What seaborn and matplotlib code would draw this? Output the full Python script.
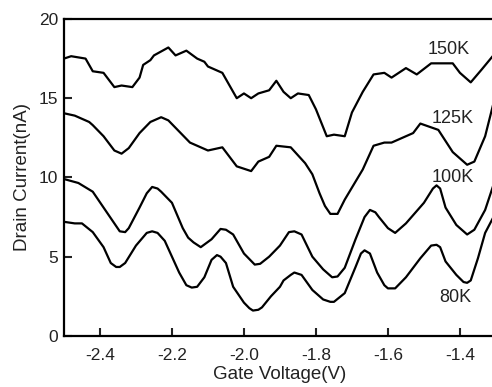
import pandas as pd
import matplotlib
matplotlib.use('Agg')
import matplotlib.pyplot as plt
import seaborn as sns

# Кривые тока стока при разных температурах
x_150 = [-2.50, -2.48, -2.44, -2.42, -2.39, -2.36, -2.34, -2.31, -2.29, -2.28, -2.26, -2.25,
         -2.21, -2.19, -2.16, -2.13, -2.11, -2.10, -2.06, -2.04, -2.02, -2.00, -1.98, -1.96,
         -1.93, -1.91, -1.89, -1.87, -1.85, -1.82, -1.80, -1.77, -1.75, -1.72, -1.70, -1.67,
         -1.64, -1.61, -1.59, -1.55, -1.52, -1.48, -1.42, -1.40, -1.37, -1.34, -1.30]
y_150 = [17.5, 17.65, 17.5, 16.7, 16.6, 15.7, 15.8, 15.7, 16.3, 17.1, 17.4, 17.7,
         18.2, 17.7, 18.0, 17.5, 17.3, 17.0, 16.6, 15.8, 15.0, 15.3, 15.0, 15.3,
         15.5, 16.1, 15.4, 15.0, 15.3, 15.2, 14.3, 12.6, 12.7, 12.6, 14.1, 15.4,
         16.5, 16.6, 16.3, 16.9, 16.5, 17.2, 17.2, 16.6, 16.0, 16.8, 17.9]

x_125 = [-2.50, -2.47, -2.43, -2.42, -2.39, -2.36, -2.34, -2.32, -2.29, -2.26, -2.23, -2.21,
         -2.18, -2.15, -2.13, -2.10, -2.06, -2.02, -1.98, -1.96, -1.93, -1.91, -1.87, -1.83,
         -1.81, -1.79, -1.775, -1.76, -1.74, -1.72, -1.67, -1.64, -1.61, -1.59, -1.56, -1.53,
         -1.51, -1.46, -1.42, -1.38, -1.36, -1.33, -1.30]
y_125 = [14.05, 13.9, 13.5, 13.3, 12.6, 11.7, 11.5, 11.85, 12.8, 13.5, 13.8, 13.6,
         12.9, 12.2, 12.0, 11.7, 11.9, 10.7, 10.4, 11.0, 11.3, 12.0, 11.9, 10.9,
         10.2, 9.0, 8.2, 7.7, 7.7, 8.6, 10.5, 12.0, 12.2, 12.2, 12.5, 12.8,
         13.4, 13.0, 11.6, 10.8, 11.0, 12.6, 15.3]

x_100 = [-2.50, -2.46, -2.42, -2.39, -2.36, -2.345, -2.33, -2.32, -2.29, -2.27, -2.255, -2.24,
         -2.23, -2.20, -2.185, -2.17, -2.155, -2.14, -2.12, -2.09, -2.065, -2.05, -2.03, -2.00,
         -1.97, -1.955, -1.93, -1.90, -1.875, -1.86, -1.84, -1.81, -1.78, -1.755, -1.74, -1.72,
         -1.69, -1.665, -1.65, -1.635, -1.625, -1.60, -1.58, -1.55, -1.50, -1.475, -1.465, -1.455,
         -1.44, -1.41, -1.38, -1.36, -1.33, -1.30]
y_100 = [9.9, 9.65, 9.1, 8.1, 7.1, 6.6, 6.55, 6.8, 8.1, 9.0, 9.4, 9.3,
         9.1, 8.4, 7.6, 6.8, 6.2, 5.9, 5.6, 6.1, 6.75, 6.7, 6.4, 5.2,
         4.5, 4.55, 5.0, 5.7, 6.55, 6.6, 6.4, 5.0, 4.2, 3.7, 3.75, 4.3,
         6.1, 7.5, 7.95, 7.8, 7.5, 6.8, 6.5, 7.1, 8.4, 9.3, 9.5, 9.3,
         8.1, 7.0, 6.4, 6.7, 7.95, 10.0]

x_80 = [-2.50, -2.47, -2.45, -2.42, -2.39, -2.37, -2.355, -2.345, -2.33, -2.30, -2.27, -2.255,
        -2.24, -2.22, -2.20, -2.18, -2.16, -2.145, -2.13, -2.11, -2.09, -2.075, -2.065, -2.05,
        -2.03, -2.00, -1.985, -1.975, -1.96, -1.95, -1.925, -1.90, -1.89, -1.87, -1.86, -1.84,
        -1.81, -1.78, -1.76, -1.75, -1.72, -1.69, -1.675, -1.665, -1.65, -1.63, -1.61, -1.60,
        -1.58, -1.55, -1.51, -1.48, -1.465, -1.455, -1.44, -1.41, -1.39, -1.38, -1.37, -1.35,
        -1.33, -1.30]
y_80 = [7.2, 7.1, 7.1, 6.55, 5.6, 4.6, 4.35, 4.35, 4.6, 5.7, 6.5, 6.6,
        6.5, 6.0, 5.0, 4.0, 3.2, 3.05, 3.1, 3.7, 4.8, 5.1, 5.0, 4.6,
        3.1, 2.1, 1.75, 1.6, 1.65, 1.8, 2.5, 3.1, 3.5, 3.85, 4.0, 3.85,
        2.9, 2.3, 2.15, 2.15, 2.7, 4.35, 5.2, 5.4, 5.2, 4.0, 3.2, 3.0,
        3.0, 3.7, 4.9, 5.7, 5.75, 5.6, 4.7, 3.85, 3.4, 3.35, 3.5, 4.9,
        6.5, 7.8]

labels = ['150K', '125K', '100K', '80K']
label_x = [-1.489, -1.478, -1.478, -1.458]
label_y = [18.1, 13.75, 10.0, 2.4]
x_ticks = [-2.4, -2.2, -2.0, -1.8, -1.6, -1.4]
y_ticks = [0, 5, 10, 15, 20]

# Сборка длинной таблицы для seaborn
frames = []
for name, xs, ys in zip(labels, [x_150, x_125, x_100, x_80], [y_150, y_125, y_100, y_80]):
    frames.append(pd.DataFrame({'Vg': xs, 'Id': ys, 'T': name}))
df = pd.concat(frames, ignore_index=True)

sns.set_style("ticks")
plt.rcParams['font.family'] = ['Liberation Sans', 'DejaVu Sans']

fig = plt.figure(figsize=(4.92, 3.87), dpi=100)
# правый край оси уходит за край картинки, как в оригинале
ax = fig.add_axes([0.130, 0.132, 0.878, 0.819])

sns.lineplot(data=df, x='Vg', y='Id', hue='T', units='T', estimator=None, sort=False,
             palette={n: 'black' for n in labels}, linewidth=1.6, legend=False, ax=ax,
             solid_joinstyle='round', solid_capstyle='round')

for name, lx, ly in zip(labels, label_x, label_y):
    ax.text(lx, ly, name, fontsize=13, color='#222222', ha='left', va='center')

ax.set_xlim(-2.5, -1.3)
ax.set_ylim(0, 20)
ax.set_xticks(x_ticks)
ax.set_xticklabels([f'{t:.1f}' for t in x_ticks])
ax.set_yticks(y_ticks)
ax.tick_params(direction='in', length=6, width=1.5, labelsize=12.5, colors='#222222')
ax.tick_params(axis='x', pad=9)
ax.tick_params(axis='y', pad=4)
for side in ['left', 'bottom', 'top', 'right']:
    ax.spines[side].set_linewidth(1.6)
    ax.spines[side].set_color('black')

ax.set_xlabel('Gate Voltage(V)', fontsize=13.5, color='#222222', labelpad=2)
ax.set_ylabel('Drain Current(nA)', fontsize=13.5, color='#222222', labelpad=6)

fig.savefig('out.png', dpi=100)
